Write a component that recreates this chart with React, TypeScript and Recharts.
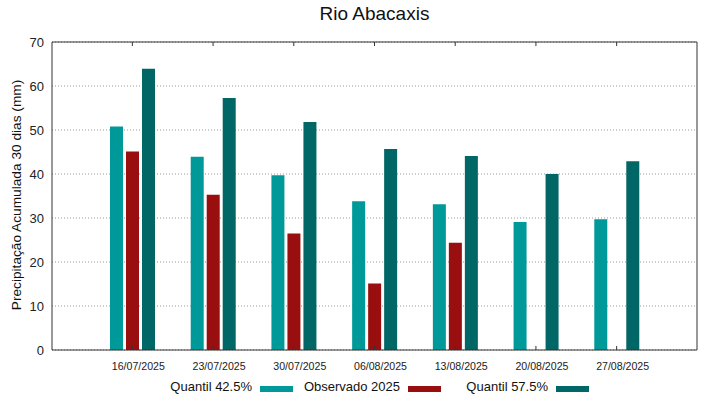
import React from 'react';
import { BarChart, Bar, XAxis, YAxis, CartesianGrid, Legend } from 'recharts';

const dates = ['16/07/2025', '23/07/2025', '30/07/2025', '06/08/2025', '13/08/2025', '20/08/2025', '27/08/2025'];
const quantil425 = [50.8, 43.9, 39.7, 33.8, 33.1, 29.1, 29.7];
const observado2025: (number | null)[] = [45.1, 35.3, 26.5, 15.1, 24.4, null, null];
const quantil575 = [63.9, 57.3, 51.8, 45.7, 44.1, 40.0, 42.9];
const yTicks = [0, 10, 20, 30, 40, 50, 60, 70];

const seriesNames = ['Quantil 42.5%', 'Observado 2025', 'Quantil 57.5%'];
const seriesColors = ['#009999', '#990f0f', '#006666'];

const data = dates.map((d, i) => ({
  date: d,
  q425: quantil425[i],
  obs: observado2025[i],
  q575: quantil575[i],
}));

const FONT = '"Liberation Sans", Arial, sans-serif';
const FRAME = '#333333';
const empty = () => '';

const LegendContent = () => (
  <div style={{ position: 'relative', width: 719, height: 27, fontFamily: FONT }}>
    {seriesNames.map((n, i) => (
      <div
        key={n}
        style={{
          position: 'absolute',
          left: 145 + i * 148,
          width: 148,
          top: 7,
          height: 16,
          display: 'flex',
          justifyContent: 'flex-end',
          alignItems: 'center',
        }}
      >
        <span style={{ fontSize: 13, color: '#111', lineHeight: '16px', whiteSpace: 'nowrap' }}>{n}</span>
        <span
          style={{
            display: 'inline-block',
            width: 33,
            height: 6,
            marginLeft: 8,
            marginTop: 3,
            background: seriesColors[i],
          }}
        />
      </div>
    ))}
  </div>
);

export default function App() {
  return (
    <div style={{ position: 'absolute', left: 0, top: 0, width: 719, height: 399, fontFamily: FONT }}>
      <div
        style={{
          position: 'absolute',
          left: 0,
          width: 749,
          top: 3,
          textAlign: 'center',
          fontSize: 19,
          lineHeight: '22px',
          color: '#111',
          zIndex: 2,
        }}
      >
        Rio Abacaxis
      </div>
      <BarChart
        width={719}
        height={399}
        data={data}
        margin={{ top: 42, right: 22, bottom: 0, left: 0 }}
        barSize={13}
        barGap={3}
      >
        <CartesianGrid
          xAxisId="x"
          yAxisId="y"
          vertical={false}
          stroke="#999"
          strokeDasharray="1 2"
        />
        <XAxis
          xAxisId="x"
          dataKey="date"
          height={22}
          padding={{ left: 40, right: 40 }}
          tickLine={false}
          tickMargin={6}
          axisLine={{ stroke: FRAME }}
          tick={{ fontSize: 10.6, fill: '#222', fontFamily: FONT, dx: 6 }}
          interval={0}
        />
        <XAxis
          xAxisId="xin"
          dataKey="date"
          mirror
          padding={{ left: 40, right: 40 }}
          tickSize={4}
          tickLine={{ stroke: FRAME }}
          axisLine={false}
          tickFormatter={empty}
          interval={0}
        />
        <XAxis
          xAxisId="top"
          dataKey="date"
          orientation="top"
          mirror
          padding={{ left: 40, right: 40 }}
          tickSize={4}
          tickLine={{ stroke: FRAME }}
          axisLine={{ stroke: FRAME }}
          tickFormatter={empty}
          interval={0}
        />
        <YAxis
          yAxisId="y"
          width={52}
          domain={[0, 70]}
          ticks={yTicks}
          tickLine={false}
          axisLine={{ stroke: FRAME }}
          tick={{ fontSize: 13, fill: '#222', fontFamily: FONT }}
          label={{
            content: () => (
              <text
                x={21}
                y={195}
                transform="rotate(-90, 21, 195)"
                textAnchor="middle"
                fontSize={13.7}
                fill="#111"
                fontFamily={FONT}
              >
                Precipitação Acumulada 30 dias (mm)
              </text>
            ),
          }}
        />
        <YAxis
          yAxisId="yin"
          mirror
          domain={[0, 70]}
          ticks={yTicks}
          tickSize={4}
          tickLine={{ stroke: FRAME }}
          axisLine={false}
          tickFormatter={empty}
        />
        <YAxis
          yAxisId="right"
          orientation="right"
          mirror
          domain={[0, 70]}
          ticks={yTicks}
          tickSize={4}
          tickLine={{ stroke: FRAME }}
          axisLine={{ stroke: FRAME }}
          tickFormatter={empty}
        />
        <Legend verticalAlign="bottom" wrapperStyle={{ left: 0, width: 719 }} content={LegendContent} />
        <Bar xAxisId="x" yAxisId="y" dataKey="q425" name={seriesNames[0]} fill={seriesColors[0]} isAnimationActive={false} />
        <Bar xAxisId="x" yAxisId="y" dataKey="obs" name={seriesNames[1]} fill={seriesColors[1]} isAnimationActive={false} />
        <Bar xAxisId="x" yAxisId="y" dataKey="q575" name={seriesNames[2]} fill={seriesColors[2]} isAnimationActive={false} />
      </BarChart>
    </div>
  );
}
